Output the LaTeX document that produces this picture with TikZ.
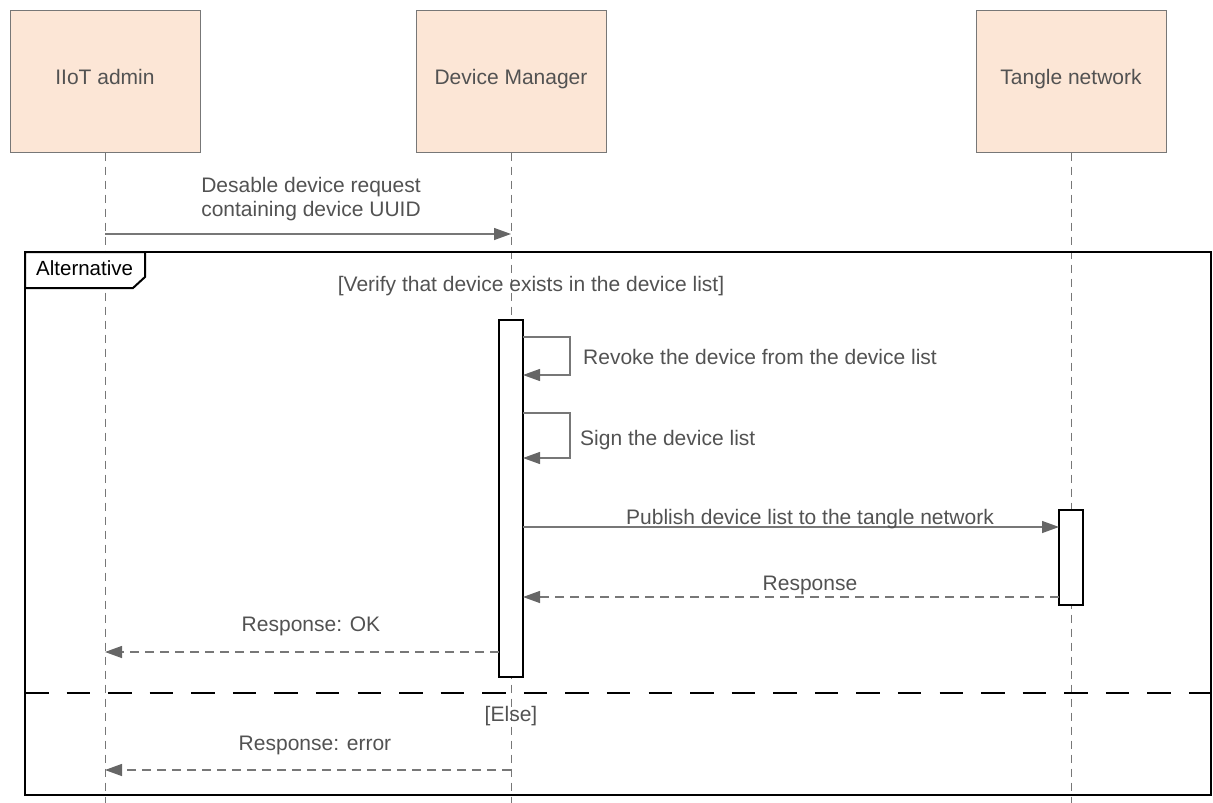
\documentclass[tikz,border=0pt]{standalone}
\usepackage{fontspec}
\setmainfont{Liberation Sans}
\usetikzlibrary{arrows.meta}
\definecolor{peach}{HTML}{FCE6D6}
\definecolor{txt}{HTML}{525252}
\definecolor{ln}{HTML}{777777}
\definecolor{tip}{HTML}{666666}
\begin{document}
\begin{tikzpicture}[x=1pt,y=-1pt,
  actor/.style={draw=ln,line width=1pt,fill=peach,minimum width=190pt,minimum height=142pt,inner sep=0pt,text=txt,font=\fontsize{21}{25}\selectfont,text height=0.72em,text depth=0.08em},
  lifeline/.style={draw=ln,line width=1pt,dash pattern=on 8pt off 6pt},
  bar/.style={draw=black,line width=2pt,fill=white,minimum width=24pt,inner sep=0pt},
  msg/.style={draw=ln,line width=1.3pt,-{Triangle[length=17pt,width=12pt,color=tip,fill=tip]}},
  reply/.style={draw=ln,line width=1.3pt,dash pattern=on 9pt off 6pt,-{Triangle[length=17pt,width=12pt,color=tip,fill=tip]}},
  lbl/.style={text=txt,font=\fontsize{21}{24}\selectfont,inner sep=0pt,align=center},
  frm/.style={draw=black,line width=2.5pt}]
\useasboundingbox (0,0) rectangle (1213,803);
% actors
\node[actor] (admin) at (105,81) {IIoT admin};
\node[actor] (dm) at (511,81) {Device Manager};
\node[actor] (tn) at (1071,81) {Tangle network};
% lifeline ends
\coordinate (adminEnd) at (105,803);
\coordinate (dmEnd) at (511,803);
\coordinate (tnEnd) at (1071,803);
\draw[lifeline] (admin.south) -- (adminEnd);
\draw[lifeline] (dm.south) -- (dmEnd);
\draw[lifeline] (tn.south) -- (tnEnd);
% first message
\coordinate (m1s) at (105,234);
\coordinate (m1e) at (511,234);
\draw[msg] (m1s) -- (m1e);
\node[lbl] (m1l) at (311,199) {Desable device request\\containing device UUID};
% frame
\coordinate (fTL) at (25,252);
\coordinate (fBR) at (1211,795);
\draw[frm,fill=none] (fTL) rectangle (fBR);
\draw[frm,fill=white,line width=2pt] (25,252) -- (145,252) -- (145,277) -- (133,288) -- (25,288) -- cycle;
\node[anchor=west,inner sep=0pt,font=\fontsize{20.5}{24}\selectfont] (alt) at (36,268) {Alternative};
\node[lbl] (guard) at (531,286) {[Verify that device exists in the device list]};
% activation bars
\node[bar,minimum height=357pt] (dmbar) at (511,498.5) {};
\node[bar,minimum height=95pt] (tbar) at (1071,557.5) {};
% self calls
\coordinate (s1a) at (523,337);
\coordinate (s1b) at (570,337);
\coordinate (s1c) at (570,375);
\coordinate (s1d) at (523,375);
\draw[msg] (s1a) -- (s1b) -- (s1c) -- (s1d);
\node[lbl,anchor=west] (s1l) at (583,357) {Revoke the device from the device list};
\coordinate (s2a) at (523,413);
\coordinate (s2b) at (570,413);
\coordinate (s2c) at (570,458);
\coordinate (s2d) at (523,458);
\draw[msg] (s2a) -- (s2b) -- (s2c) -- (s2d);
\node[lbl,anchor=west] (s2l) at (580,440) {Sign the device list};
% publish
\coordinate (p1) at (523,527);
\coordinate (p2) at (1059,527);
\draw[msg] (p1) -- (p2);
\node[lbl] (pl) at (810,519) {Publish device list to the tangle network};
% response
\coordinate (r1) at (1059,597);
\coordinate (r2) at (523,597);
\draw[reply] (r1) -- (r2);
\node[lbl] (rl) at (810,585) {Response};
% response ok
\coordinate (ok1) at (499,652);
\coordinate (ok2) at (105,652);
\draw[reply] (ok1) -- (ok2);
\node[lbl] (okl) at (311,626) {Response: OK};
% separator
\coordinate (sepL) at (25,693);
\coordinate (sepR) at (1211,693);
\draw[black,line width=2.5pt,dash pattern=on 23.5pt off 18.07pt] (sepL) -- (sepR);
\node[lbl] (else) at (511,716) {[Else]};
% error
\coordinate (e1) at (511,770);
\coordinate (e2) at (105,770);
\draw[reply] (e1) -- (e2);
\node[lbl] (el) at (315,745) {Response: error};
\end{tikzpicture}
\end{document}
